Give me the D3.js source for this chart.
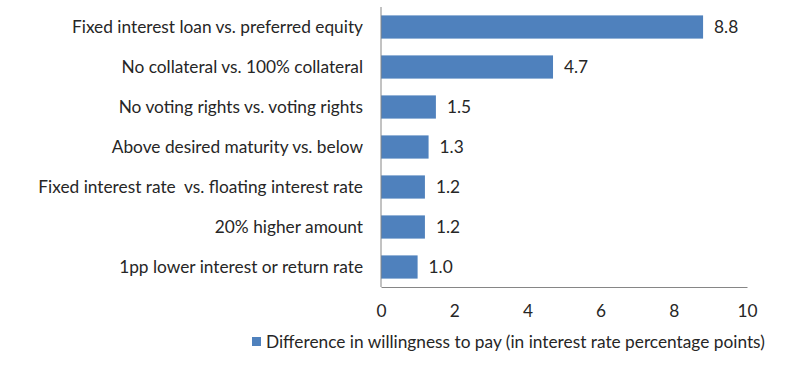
<!DOCTYPE html>
<html><head><meta charset="utf-8">
<script src="https://cdn.jsdelivr.net/npm/d3@7"></script>
<style>body{margin:0;background:#fff;} text{font-family:Lato, "Open Sans", sans-serif;fill:#262626;white-space:pre;}</style>
</head><body>
<svg id="c" width="800" height="375"></svg>
<script>
const categories = ["Fixed interest loan vs. preferred equity","No collateral vs. 100% collateral","No voting rights vs. voting rights","Above desired maturity vs. below","Fixed interest rate  vs. floating interest rate","20% higher amount","1pp lower interest or return rate"];
const values = [8.8, 4.7, 1.5, 1.3, 1.2, 1.2, 1.0];
const xTicks = [0, 2, 4, 6, 8, 10];
const seriesName = "Difference in willingness to pay (in interest rate percentage points)";

(function(){
const svg = d3.select("#c");
const pl = 381, pr = 747, pt = 7, pb = 287;
const fs = "17.3px";
const x = d3.scaleLinear().domain([0, 10]).range([pl, pr]);
const y = d3.scaleBand().domain(categories).range([pt, pb]).paddingInner(0.42).paddingOuter(0.21);
const color = "#4F81BD";

svg.selectAll("rect.bar").data(values).enter().append("rect")
  .attr("x", x(0)).attr("y", (d,i)=>y(categories[i]))
  .attr("width", d=>x(d)-x(0)).attr("height", y.bandwidth()).attr("fill", color);

svg.selectAll("text.val").data(values).enter().append("text")
  .attr("x", d=>x(d)+11).attr("y", (d,i)=>y(categories[i])+y.bandwidth()/2)
  .attr("dy","0.35em").style("font-size",fs).text(d=>d.toFixed(1));

const xa = svg.append("g").attr("transform",`translate(0,${pb})`)
  .call(d3.axisBottom(x).tickValues(xTicks).tickSize(0).tickPadding(18));
xa.select(".domain").attr("stroke","#868686");
xa.selectAll("text").style("font-size",fs).style("font-family","Lato, sans-serif").attr("fill","#262626");

const ya = svg.append("g").attr("transform",`translate(${pl},0)`)
  .call(d3.axisLeft(y).tickSize(0).tickPadding(18));
ya.select(".domain").attr("stroke","#868686").attr("d",`M0,${pt}V${pb}`);
ya.selectAll("text").style("font-size",fs).style("font-family","Lato, sans-serif").attr("fill","#262626");

const lg = svg.append("g").attr("transform","translate(252,337)");
lg.append("rect").attr("width",9).attr("height",9).attr("fill",color);
lg.append("text").attr("x",14).attr("y",5).attr("dy","0.35em").style("font-size",fs).text(seriesName);
})();
</script>
</body></html>
